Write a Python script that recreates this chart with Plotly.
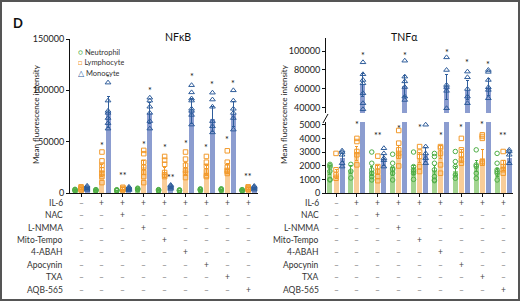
import plotly.graph_objects as go

# ---------------- data ----------------
groups = [0, 1, 2, 3, 4, 5, 6, 7, 8]
cells = ["Neutrophil", "Lymphocyte", "Monocyte"]

# NFkB panel
nfkb_neut_mean = [2800, 2600, 2500, 3800, 2600, 2400, 3200, 3300, 2600]
nfkb_neut_err = [500, 400, 400, 600, 400, 400, 500, 500, 400]
nfkb_neut_pts = [[2000, 2600, 3200, 3600], [2000, 2500, 3000, 3300], [2000, 2400, 2900, 3200],
                 [3000, 3600, 4200, 4700], [2000, 2500, 3000, 3300], [1900, 2300, 2800, 3000],
                 [2500, 3100, 3600, 4000], [2600, 3200, 3700, 4100], [2000, 2500, 3000, 3300]]
nfkb_lymph_mean = [4500, 22000, 4200, 25000, 20000, 24000, 22000, 24000, 4500]
nfkb_lymph_err = [900, 6000, 800, 7000, 5000, 6000, 5000, 5000, 900]
nfkb_lymph_pts = [[3000, 4000, 5000, 6000], [39900, 31300, 27000, 22500, 19000, 16000, 10100],
                  [3000, 3800, 4600, 5600], [41500, 38300, 30000, 25000, 20000, 16000, 10100],
                  [35600, 32000, 28000, 20000, 17600, 16000], [39900, 33000, 27000, 22000, 19200, 15000],
                  [35600, 30000, 26000, 21000, 17000, 16000], [41100, 30000, 25000, 22000, 20900, 19000],
                  [3200, 4000, 5000, 6000]]
nfkb_mono_mean = [4500, 79000, 4000, 78000, 5500, 80000, 72000, 77000, 4800]
nfkb_mono_err = [900, 15000, 800, 10000, 1200, 12000, 12000, 12000, 900]
nfkb_mono_pts = [[3000, 4000, 5000, 6000, 7000], [107500, 90000, 80000, 78000, 73000, 68000, 62700],
                 [2800, 3600, 4400, 5200, 6000], [92800, 90000, 84000, 78000, 70000, 62700],
                 [4000, 5000, 6000, 7000, 7800], [105000, 98000, 92000, 90000, 82000, 80000, 76000, 66600],
                 [97700, 91000, 84000, 70000, 65000, 59000], [100000, 90000, 82000, 78000, 73000, 61700],
                 [3200, 4200, 5200, 6000, 6800]]

# TNFa panel
tnf_neut_mean = [1700, 1700, 1600, 1600, 1700, 1700, 1600, 2000, 1500]
tnf_neut_err = [350, 300, 350, 300, 350, 350, 350, 400, 300]
tnf_neut_pts = [[2100, 2000, 1900, 1600, 1000, 950], [2100, 1600, 1100], [3000, 2180, 1700, 1450, 1200, 955],
                [2840, 2180, 1810, 1700, 1450, 955], [3000, 1935, 1700, 1600, 1450, 1000],
                [2900, 2670, 2180, 1700, 1200, 955, 900], [3040, 2300, 1935, 1320, 1080],
                [3160, 2060, 1950, 1450, 1080], [2900, 2180, 1700, 1570, 1450, 955]]
tnf_lymph_mean = [1400, 2900, 1700, 3000, 2600, 3000, 2700, 2600, 2000]
tnf_lymph_err = [350, 500, 350, 500, 400, 500, 450, 600, 350]
tnf_lymph_pts = [[2900, 1700, 1320, 1080], [4000, 3770, 3040, 2800, 2060], [2700, 1935, 1570, 1200, 900],
                 [4580, 3650, 3160, 2900, 2700, 1980], [3400, 3000, 2670, 1935, 1570],
                 [3400, 3300, 2900, 2060, 1450], [4000, 3160, 2800, 2430, 2180],
                 [4260, 4140, 4000, 2300, 2180], [3040, 2230, 1935, 1700, 1450]]
tnf_mono_mean = [2600, 64000, 2400, 63000, 2800, 62000, 59000, 62000, 2600]
tnf_mono_err = [300, 12000, 400, 11000, 500, 13000, 10000, 9000, 350]
tnf_mono_pts = [[3100, 3000, 2800, 2180, 1935], [88100, 75500, 69500, 66000, 55500, 45000, 38600],
                [3280, 2900, 2550, 2400, 1935], [89800, 73000, 68000, 62000, 52000, 48400],
                [5000, 3400, 2900, 2550, 2180], [93300, 80000, 64200, 62000, 58000, 39700],
                [78300, 72300, 60000, 52000, 45000], [80000, 78000, 69500, 61800, 59000, 50200],
                [3160, 3040, 2800, 2180]]

# significance marks: group, cell index, value, text
nfkb_sig_group = [1, 1, 3, 3, 4, 5, 5, 6, 6, 7, 7, 2, 4, 8]
nfkb_sig_cell = [1, 2, 1, 2, 1, 1, 2, 1, 2, 1, 2, 1, 2, 1]
nfkb_sig_value = [48700, 114600, 49600, 101900, 47000, 50300, 116000, 47000, 108000, 54500, 109300, 19600, 17300, 18600]
nfkb_sig_text = ["*", "*", "*", "*", "*", "*", "*", "*", "*", "*", "*", "**", "**", "**"]

tnf_low_sig_group = [1, 3, 4, 5, 6, 7, 2, 8, 4]
tnf_low_sig_cell = [1, 1, 1, 1, 1, 1, 1, 1, 2]
tnf_low_sig_value = [5170, 4900, 5000, 4380, 5000, 5170, 4430, 4430, 5800]
tnf_low_sig_text = ["*", "*", "*", "*", "*", "*", "**", "**", "**"]
tnf_up_sig_group = [1, 3, 5, 6, 7]
tnf_up_sig_value = [98200, 98200, 101000, 90500, 88100]

treatments = ["IL-6", "NAC", "L-NMMA", "Mito-Tempo", "4-ABAH", "Apocynin", "TXA", "AQB-565"]
treatment_signs = ["-++++++++", "--+------", "---+-----", "----+----",
                   "-----+---", "------+--", "-------+-", "--------+"]

left_ticks = [0, 50000, 100000, 150000]
low_ticks = [0, 1000, 2000, 3000, 4000, 5000]
up_ticks = [40000, 60000, 80000, 100000]

# ---------------- style ----------------
W, H = 520, 301
FONT = "Lato"
offsets = [-0.29, 0.0, 0.29]
bar_colors = ["#a3d591", "#f9cd98", "#8c9dd0"]
mk_colors = ["#4fae46", "#f29a2c", "#2f5d9b"]
symbols = ["circle-open", "square-open", "triangle-up-open"]
mk_sizes = [4.5, 4.5, 5]


def px_x(p):
    return p / W


def px_y(p):
    return (H - p) / H


fig = go.Figure()


def add_panel(means, errs, pts, xa, ya_list):
    for c in range(3):
        xs = [g + offsets[c] for g in groups]
        for ya in ya_list:
            fig.add_trace(go.Bar(
                x=xs, y=means[c], width=0.24, xaxis=xa, yaxis=ya,
                marker=dict(color=bar_colors[c], line=dict(width=0)),
                error_y=dict(type="data", array=errs[c], color=mk_colors[c], thickness=1, width=1.5),
                showlegend=False, hoverinfo="skip"))
            px, py = [], []
            for g in groups:
                for v in pts[c][g]:
                    px.append(g + offsets[c])
                    py.append(v)
            fig.add_trace(go.Scatter(
                x=px, y=py, mode="markers", xaxis=xa, yaxis=ya,
                marker=dict(symbol=symbols[c], size=mk_sizes[c], color=mk_colors[c], line=dict(width=1, color=mk_colors[c])),
                showlegend=False, hoverinfo="skip"))


add_panel([nfkb_neut_mean, nfkb_lymph_mean, nfkb_mono_mean],
          [nfkb_neut_err, nfkb_lymph_err, nfkb_mono_err],
          [nfkb_neut_pts, nfkb_lymph_pts, nfkb_mono_pts], "x", ["y"])
add_panel([tnf_neut_mean, tnf_lymph_mean, tnf_mono_mean],
          [tnf_neut_err, tnf_lymph_err, tnf_mono_err],
          [tnf_neut_pts, tnf_lymph_pts, tnf_mono_pts], "x2", ["y2", "y3"])

tick_font = dict(family=FONT, size=9, color="#222")
axis_common = dict(showline=True, linecolor="#111", linewidth=1, ticks="outside", ticklen=3,
                   tickcolor="#111", showgrid=False, zeroline=False, tickfont=tick_font, fixedrange=True)

fig.update_layout(
    width=W, height=H, margin=dict(l=0, r=0, t=0, b=0, autoexpand=False),
    paper_bgcolor="white", plot_bgcolor="white", barmode="overlay", bargap=0,
    showlegend=False,
    xaxis=dict(domain=[px_x(70), px_x(258)], range=[-0.53, 8.47], anchor="y",
               tickvals=groups, showticklabels=False, **axis_common),
    yaxis=dict(domain=[px_y(193), px_y(39)], range=[0, 150000], anchor="x",
               tickvals=left_ticks, tickformat="d", **axis_common),
    xaxis2=dict(domain=[px_x(326), px_x(513)], range=[-0.48, 8.47], anchor="y2",
                tickvals=groups, showticklabels=False, **axis_common),
    yaxis2=dict(domain=[px_y(193), px_y(122)], range=[0, 5200], anchor="x2",
                tickvals=low_ticks, tickformat="d", **axis_common),
    yaxis3=dict(domain=[px_y(113), px_y(38)], range=[34700, 113700], anchor="x2",
                tickvals=up_ticks, tickformat="d", **axis_common),
)

ann = []
star_font = dict(family=FONT, size=9, color="#111")
# significance marks
for g, c, v, t in zip(nfkb_sig_group, nfkb_sig_cell, nfkb_sig_value, nfkb_sig_text):
    xo = offsets[c] if t == "*" or c == 2 else 0
    ann.append(dict(x=g + xo, y=v, xref="x", yref="y", text=t, showarrow=False, borderpad=0,
                    height=8, valign="top", font=star_font, yshift=-1))
for g, c, v, t in zip(tnf_low_sig_group, tnf_low_sig_cell, tnf_low_sig_value, tnf_low_sig_text):
    xo = 0 if c == 1 else offsets[c]
    ann.append(dict(x=g + xo, y=v, xref="x2", yref="y2", text=t, showarrow=False, borderpad=0,
                    height=8, valign="top", font=star_font, yshift=-1))
for g, v in zip(tnf_up_sig_group, tnf_up_sig_value):
    ann.append(dict(x=g + offsets[2], y=v, xref="x2", yref="y3", text="*", showarrow=False, borderpad=0,
                    height=8, valign="top", font=star_font, yshift=-1))

# treatment table
row_y0, row_dy = 203, 12.36
for i, name in enumerate(treatments):
    yy = px_y(row_y0 + i * row_dy)
    for lab_x, xr in [(65, "x"), (321, "x2")]:
        ann.append(dict(x=px_x(lab_x), y=yy, xref="paper", yref="paper", text=name, showarrow=False,
                        xanchor="right", yanchor="middle", font=dict(family=FONT, size=8.5, color="#333")))
        for g in groups:
            s = treatment_signs[i][g]
            ann.append(dict(x=g, y=yy, xref=xr, yref="paper", text="+" if s == "+" else "–",
                            showarrow=False, yanchor="middle",
                            font=dict(family=FONT, size=8.5, color="#444" if s == "+" else "#888")))

# titles, axis titles, panel letter
ann.append(dict(x=px_x(163), y=px_y(29), xref="paper", yref="paper", text="NFκB", showarrow=False,
                font=dict(family=FONT, size=10.5, color="#111")))
ann.append(dict(x=px_x(420), y=px_y(29), xref="paper", yref="paper", text="TNFα", showarrow=False,
                font=dict(family=FONT, size=10.5, color="#111")))
for xx in [29, 284]:
    ann.append(dict(x=px_x(xx), y=px_y(114), xref="paper", yref="paper", text="Mean fluorescence intensity",
                    showarrow=False, textangle=-90, font=dict(family=FONT, size=8, color="#222")))
ann.append(dict(x=px_x(11), y=px_y(13), xref="paper", yref="paper", text="<b>D</b>", showarrow=False,
                font=dict(family=FONT, size=13, color="#111")))

# legend
leg_y = [45.5, 56.5, 67.0]
glyphs = ["○", "□", "△"]
for c in range(3):
    ann.append(dict(x=px_x(77), y=px_y(leg_y[c]), xref="paper", yref="paper", xanchor="left", borderpad=0,
                    height=10, text=f"<span style='color:{mk_colors[c]}'>{glyphs[c]}</span> {cells[c]}",
                    showarrow=False, font=dict(family=FONT, size=7.5, color="#333")))

fig.update_layout(annotations=ann)

# axis break mark and frame
fig.add_shape(type="line", xref="paper", yref="paper", x0=px_x(323), y0=px_y(123), x1=px_x(328), y1=px_y(114),
              line=dict(color="#111", width=1))
fig.add_shape(type="rect", xref="paper", yref="paper", x0=px_x(1), y0=px_y(300), x1=px_x(519), y1=px_y(1),
              line=dict(color="#555", width=2))

fig.write_html("out.html", config={"displayModeBar": False},
               post_script="document.body.style.margin='0';")
